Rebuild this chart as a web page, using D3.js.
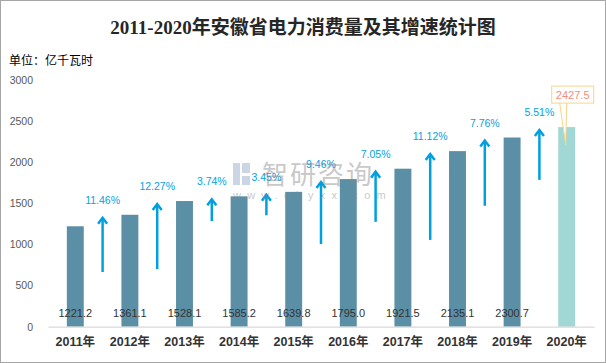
<!DOCTYPE html>
<html>
<head>
<meta charset="utf-8">
<script src="https://cdn.jsdelivr.net/npm/d3@7"></script>
<style>
  body { margin: 0; background: #fff; }
  svg { display: block; }
</style>
</head>
<body>
<svg id="chart"></svg>
<script>
// Chart data
const years = ["2011年", "2012年", "2013年", "2014年", "2015年", "2016年", "2017年", "2018年", "2019年", "2020年"];
const consumption = [1221.2, 1361.1, 1528.1, 1585.2, 1639.8, 1795.0, 1921.5, 2135.1, 2300.7, 2427.5];
const growthLabels = ["11.46%", "12.27%", "3.74%", "3.45%", "9.46%", "7.05%", "11.12%", "7.76%", "5.51%"];
// where each growth arrow starts (in y units)
const arrowBase = [665, 700, 1285, 1355, 1005, 1275, 1055, 1470, 1785];
const yTicks = [0, 500, 1000, 1500, 2000, 2500, 3000];

const width = 606;
const height = 363;

const svg = d3.select("#chart")
              .attr("width", width)
              .attr("height", height);

const numFont = "'Liberation Sans', 'Noto Sans CJK SC', sans-serif";

// outer frame
svg.append("rect")
   .attr("x", 0.5).attr("y", 0.5)
   .attr("width", width - 1).attr("height", height - 1)
   .attr("fill", "#fff")
   .attr("stroke", "#a6a6a6");

// title + unit
svg.append("text")
   .attr("x", width / 2).attr("y", 34)
   .attr("text-anchor", "middle")
   .attr("font-family", "'Liberation Serif', 'Noto Sans CJK SC', serif")
   .attr("font-weight", "bold")
   .attr("font-size", 19)
   .attr("fill", "#262626")
   .text("2011-2020年安徽省电力消费量及其增速统计图");

svg.append("text")
   .attr("x", 9).attr("y", 65)
   .attr("font-family", "'Noto Sans CJK SC', sans-serif")
   .attr("font-size", 12)
   .attr("fill", "#000")
   .text("单位：亿千瓦时");

// scales
const x = d3.scaleBand()
            .domain(years)
            .range([48, 594])
            .paddingInner(0.69)
            .paddingOuter(0.345);

const y = d3.scaleLinear()
            .domain([0, 3000])
            .range([326.7, 80]);

// y axis labels (no axis line, no grid)
const yAxis = d3.axisLeft(y).tickValues(yTicks).tickFormat(d3.format("d")).tickSize(0).tickPadding(0);
const yG = svg.append("g")
              .attr("transform", "translate(33,0)")
              .call(yAxis);
yG.select(".domain").remove();
yG.selectAll("text")
  .attr("font-family", numFont)
  .attr("font-size", 10.5)
  .attr("fill", "#595959");

// bars
svg.selectAll("rect.bar")
   .data(consumption)
   .enter().append("rect")
   .attr("class", "bar")
   .attr("x", (d, i) => x(years[i]))
   .attr("y", d => y(d))
   .attr("width", x.bandwidth())
   .attr("height", d => y(0) - y(d))
   .attr("fill", (d, i) => i === years.length - 1 ? "#a1d7d4" : "#5b8fa6");

// x axis
const xAxis = d3.axisBottom(x).tickSize(0).tickPadding(10);
const xG = svg.append("g")
              .attr("transform", `translate(0,${y(0)})`)
              .call(xAxis);
xG.select(".domain").attr("stroke", "#d9d9d9").attr("stroke-width", 1.2);
xG.selectAll("text")
  .attr("font-family", numFont)
  .attr("font-weight", "bold")
  .attr("font-size", 12.5)
  .attr("fill", "#333");

// value labels at the bottom of bars (not for 2020, it has a callout)
svg.selectAll("text.val")
   .data(consumption.slice(0, -1))
   .enter().append("text")
   .attr("class", "val")
   .attr("x", (d, i) => x(years[i]) + x.bandwidth() / 2)
   .attr("y", y(0) - 10)
   .attr("text-anchor", "middle")
   .attr("font-family", numFont)
   .attr("font-size", 11)
   .attr("fill", "#333")
   .text(d => d.toFixed(1));

// growth arrows between bars
const arrowX = i => x(years[i]) + x.bandwidth() / 2 + x.step() / 2;
const arrowTop = i => y(consumption[i + 1]) + 2;
const arrowColor = "#00a0e0";

const arrows = svg.selectAll("g.arrow")
                  .data(arrowBase)
                  .enter().append("g")
                  .attr("class", "arrow");

arrows.append("line")
      .attr("x1", (d, i) => arrowX(i))
      .attr("x2", (d, i) => arrowX(i))
      .attr("y1", d => y(d))
      .attr("y2", (d, i) => arrowTop(i) + 1)
      .attr("stroke", arrowColor)
      .attr("stroke-width", 2.5);

arrows.append("path")
      .attr("d", (d, i) => {
        const ax = arrowX(i), t = arrowTop(i);
        return `M${ax - 4.5},${t + 7}L${ax},${t + 1}L${ax + 4.5},${t + 7}`;
      })
      .attr("fill", "none")
      .attr("stroke", arrowColor)
      .attr("stroke-width", 2.5);

arrows.append("text")
      .attr("x", (d, i) => arrowX(i))
      .attr("y", (d, i) => arrowTop(i) - 13)
      .attr("text-anchor", "middle")
      .attr("font-family", numFont)
      .attr("font-size", 10.5)
      .attr("fill", "#00a2e8")
      .text((d, i) => growthLabels[i]);

// callout for last year
const last = consumption.length - 1;
const cx = x(years[last]) + x.bandwidth() / 2;
const cTop = y(consumption[last]) - 41;
const callout = svg.append("g");
callout.append("path")
       .attr("d", `M${cx - 7},${cTop + 17}L${cx - 1},${y(consumption[last]) + 18}L${cx},${cTop + 17}`)
       .attr("fill", "#fff")
       .attr("stroke", "#f7d488")
       .attr("stroke-width", 1);
callout.append("rect")
       .attr("x", cx - 15).attr("y", cTop)
       .attr("width", 42).attr("height", 17)
       .attr("fill", "#fff")
       .attr("stroke", "#f7d488")
       .attr("stroke-width", 1);
callout.append("text")
       .attr("x", cx + 6).attr("y", cTop + 13)
       .attr("text-anchor", "middle")
       .attr("font-family", numFont)
       .attr("font-size", 11)
       .attr("fill", "#f28e79")
       .text(consumption[last].toFixed(1));

// faint watermark
const wm = svg.append("g").attr("opacity", 0.45);
wm.append("rect").attr("x", 233).attr("y", 163).attr("width", 7).attr("height", 22).attr("fill", "#8fa3c4");
wm.append("path").attr("d", "M242,163h8v10h-8zM242,176h8v9h-8z").attr("fill", "#8fa3c4");
wm.append("text")
  .attr("x", 262).attr("y", 184)
  .attr("font-family", "'Noto Sans CJK SC', sans-serif")
  .attr("font-size", 26)
  .attr("fill", "#888")
  .attr("letter-spacing", 2)
  .text("智研咨询");
wm.append("text")
  .attr("x", 233).attr("y", 199)
  .attr("font-family", numFont)
  .attr("font-size", 11)
  .attr("fill", "#888")
  .attr("letter-spacing", 6.2)
  .text("www.chyxx.com");
</script>
</body>
</html>
